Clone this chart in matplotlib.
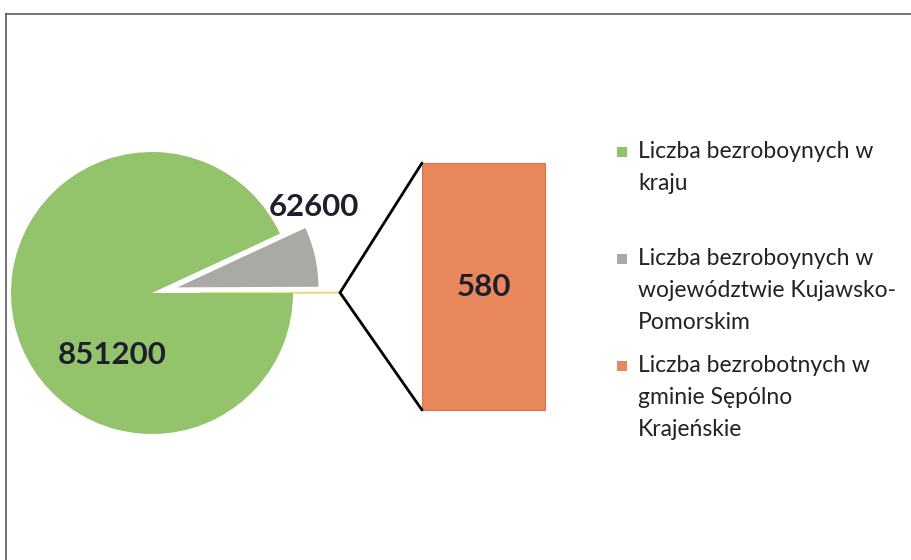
import matplotlib
matplotlib.use('Agg')
import matplotlib.pyplot as plt
import numpy as np
from matplotlib.patches import ConnectionPatch, Rectangle
from matplotlib.lines import Line2D

W, H = 912, 560

# data
kraj = 851200
wojewodztwo = 62600
gmina = 580
legend_lines = [
    ['Liczba bezroboynych w', 'kraju'],
    ['Liczba bezroboynych w', 'województwie Kujawsko-', 'Pomorskim'],
    ['Liczba bezrobotnych w', 'gminie Sępólno', 'Krajeńskie'],
]

green = '#93C46B'
grey = '#A9A9A5'
orange = '#E8865C'
yellow = '#F2DE90'
text_col = '#1E1E2C'

plt.rcParams['font.family'] = ['Lato', 'DejaVu Sans']

fig = plt.figure(figsize=(W / 100, H / 100), dpi=100)


def fx(x):
    return x / W


def fy(y):  # image y (from top) -> figure fraction
    return 1 - y / H


# pie axes in pixel units (explode is in the same units)
ax = fig.add_axes([0, 0, 1, 1])
wedges, _ = ax.pie([gmina, wojewodztwo, kraj], colors=[yellow, grey, green],
                   startangle=0, counterclock=True, explode=[47, 26, 0],
                   radius=141, center=(152, H - 293), frame=True)
wedges[0].set_edgecolor(yellow)
wedges[0].set_linewidth(1.2)
ax.set_xlim(0, W)
ax.set_ylim(0, H)
ax.axis('off')

ax.text(314, H - 207, str(wojewodztwo), ha='center', va='center', fontsize=22.5,
        fontweight='bold', color=text_col)
ax.text(112, H - 355, str(kraj), ha='center', va='center', fontsize=22.5,
        fontweight='bold', color=text_col)

# bar of the small slice
ax2 = fig.add_axes([fx(422), fy(410), 123 / W, 247 / H])
ax2.bar([0], [gmina], width=1, color=orange, edgecolor='#D8734C', linewidth=0.8, clip_on=False)
ax2.set_xlim(-0.5, 0.5)
ax2.set_ylim(0, gmina)
ax2.axis('off')
ax2.text(0, gmina / 2, str(gmina), ha='center', va='center', fontsize=22.5,
         fontweight='bold', color=text_col)

# connector lines from the small slice to the bar
w = wedges[0]
theta = np.deg2rad((w.theta1 + w.theta2) / 2)
tip = (w.center[0] + w.r * np.cos(theta), w.center[1] + w.r * np.sin(theta))
for yb in [gmina, 0]:
    con = ConnectionPatch(xyA=(-0.5, yb), coordsA=ax2.transData, xyB=tip, coordsB=ax.transData,
                          color='black', linewidth=2)
    fig.add_artist(con)

# legend drawn by hand (Excel style, equal slots)
for i, (lines, col) in enumerate(zip(legend_lines, [green, grey, orange])):
    base = 158 + i * 107
    fig.patches.append(Rectangle((fx(617), fy(base - 1)), 10 / W, 10 / H,
                                 transform=fig.transFigure, facecolor=col, edgecolor='none'))
    for j, line in enumerate(lines):
        fig.text(fx(638), fy(base + j * 32), line, ha='left', va='baseline',
                 fontsize=16.5, color='#222222')

# chart frame
fig.add_artist(Line2D([fx(6), 1], [fy(14), fy(14)], transform=fig.transFigure,
                      color='#5A5A5A', linewidth=1.2))
fig.add_artist(Line2D([fx(6), fx(6)], [fy(14), 0], transform=fig.transFigure,
                      color='#5A5A5A', linewidth=1.2))

fig.savefig('out.png', dpi=100)
